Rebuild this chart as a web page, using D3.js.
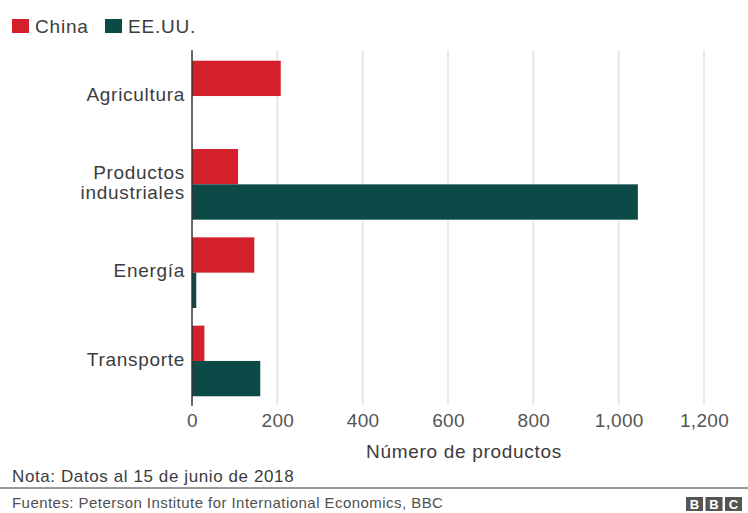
<!DOCTYPE html>
<html><head><meta charset="utf-8">
<script src="https://cdn.jsdelivr.net/npm/d3@7"></script>
<style>
html,body{margin:0;padding:0;background:#fff;}
svg{display:block;font-family:"Liberation Sans",Arial,Helvetica,sans-serif;}
</style></head>
<body>
<svg id="chart" width="748" height="513"></svg>
<script>
const categories = ["Agricultura", "Productos industriales", "Energía", "Transporte"];
const categoryLines = [["Agricultura"], ["Productos", "industriales"], ["Energía"], ["Transporte"]];
const seriesNames = ["China", "EE.UU."];
const chinaValues = [208, 108, 146, 29];
const usValues = [0, 1045, 10, 160];
const tickValues = [0, 200, 400, 600, 800, 1000, 1200];
const tickLabels = ["0", "200", "400", "600", "800", "1,000", "1,200"];
const colors = ["#d3202a", "#0b4a46"];

const svg = d3.select("#chart");
const textColor = "#3c3c3c";

const x = d3.scaleLinear().domain([0, 1200]).range([192, 704]);
const y = d3.scaleBand().domain(categories).range([51, 406]).paddingInner(0.2).paddingOuter(0.11);
const ys = d3.scaleBand().domain(seriesNames).range([0, y.bandwidth()]);

// gridlines
svg.append("g").selectAll("line").data(tickValues.slice(1)).join("line")
  .attr("x1", d => x(d)).attr("x2", d => x(d))
  .attr("y1", 50).attr("y2", 405)
  .attr("stroke", "#e2e2e2").attr("stroke-width", 1.5);

// bars
const data = [];
categories.forEach((c, i) => {
  data.push({cat: c, s: "China", v: chinaValues[i]});
  data.push({cat: c, s: "EE.UU.", v: usValues[i]});
});
svg.append("g").selectAll("rect").data(data.filter(d => d.v > 0)).join("rect")
  .attr("x", x(0))
  .attr("y", d => y(d.cat) + ys(d.s))
  .attr("width", d => x(d.v) - x(0))
  .attr("height", ys.bandwidth())
  .attr("fill", d => colors[seriesNames.indexOf(d.s)]);

// zero axis line
svg.append("line").attr("x1", x(0)).attr("x2", x(0)).attr("y1", 50).attr("y2", 406)
  .attr("stroke", "#333").attr("stroke-width", 1.5);

// category labels
const catG = svg.append("g");
categories.forEach((c, i) => {
  const lines = categoryLines[i];
  const cy = y(c) + y.bandwidth() / 2;
  const lh = 20;
  const t = catG.append("text").attr("text-anchor", "end")
    .attr("font-size", 19).attr("fill", textColor).attr("letter-spacing", 0.7);
  lines.forEach((l, j) => {
    t.append("tspan").attr("x", 185)
      .attr("y", cy + (j - (lines.length - 1) / 2) * lh - 2)
      .attr("dy", "0.35em").text(l);
  });
});

// x axis tick labels
const xAxis = d3.axisBottom(x).tickValues(tickValues)
  .tickFormat((d, i) => tickLabels[i]).tickSize(0).tickPadding(0);
const ax = svg.append("g").attr("transform", "translate(0,413)").call(xAxis);
ax.select(".domain").remove();
ax.selectAll("text").attr("font-size", 19).attr("fill", "#555")
  .attr("font-family", "Liberation Sans, Arial, sans-serif").attr("letter-spacing", 0.3);

svg.append("text").attr("x", 464).attr("y", 458).attr("text-anchor", "middle")
  .attr("font-size", 19).attr("fill", textColor).attr("letter-spacing", 0.7)
  .text("Número de productos");

// legend
const leg = svg.append("g");
const legX = [12, 105];
seriesNames.forEach((s, i) => {
  leg.append("rect").attr("x", legX[i]).attr("y", 19).attr("width", 17).attr("height", 14)
    .attr("fill", colors[i]);
  leg.append("text").attr("x", legX[i] + 23).attr("y", 33)
    .attr("font-size", 19).attr("fill", textColor).attr("letter-spacing", 0.8).text(s);
});

// note
svg.append("text").attr("x", 12).attr("y", 482).attr("font-size", 17)
  .attr("fill", textColor).attr("letter-spacing", 0.6)
  .text("Nota: Datos al 15 de junio de 2018");

svg.append("line").attr("x1", 0).attr("x2", 748).attr("y1", 488).attr("y2", 488)
  .attr("stroke", "#9a9a9a").attr("stroke-width", 2);

svg.append("text").attr("x", 12).attr("y", 508).attr("font-size", 15)
  .attr("fill", "#505050").attr("letter-spacing", 0.45)
  .text("Fuentes: Peterson Institute for International Economics, BBC");

// BBC blocks
const bbc = ["B", "B", "C"];
const bg = svg.append("g");
bbc.forEach((b, i) => {
  const bx = 686 + i * 19.5;
  bg.append("rect").attr("x", bx).attr("y", 497).attr("width", 17).attr("height", 14).attr("fill", "#555");
  bg.append("text").attr("x", bx + 8.5).attr("y", 509).attr("text-anchor", "middle")
    .attr("font-size", 13).attr("font-weight", "bold").attr("fill", "#fff").text(b);
});
</script>
</body></html>
